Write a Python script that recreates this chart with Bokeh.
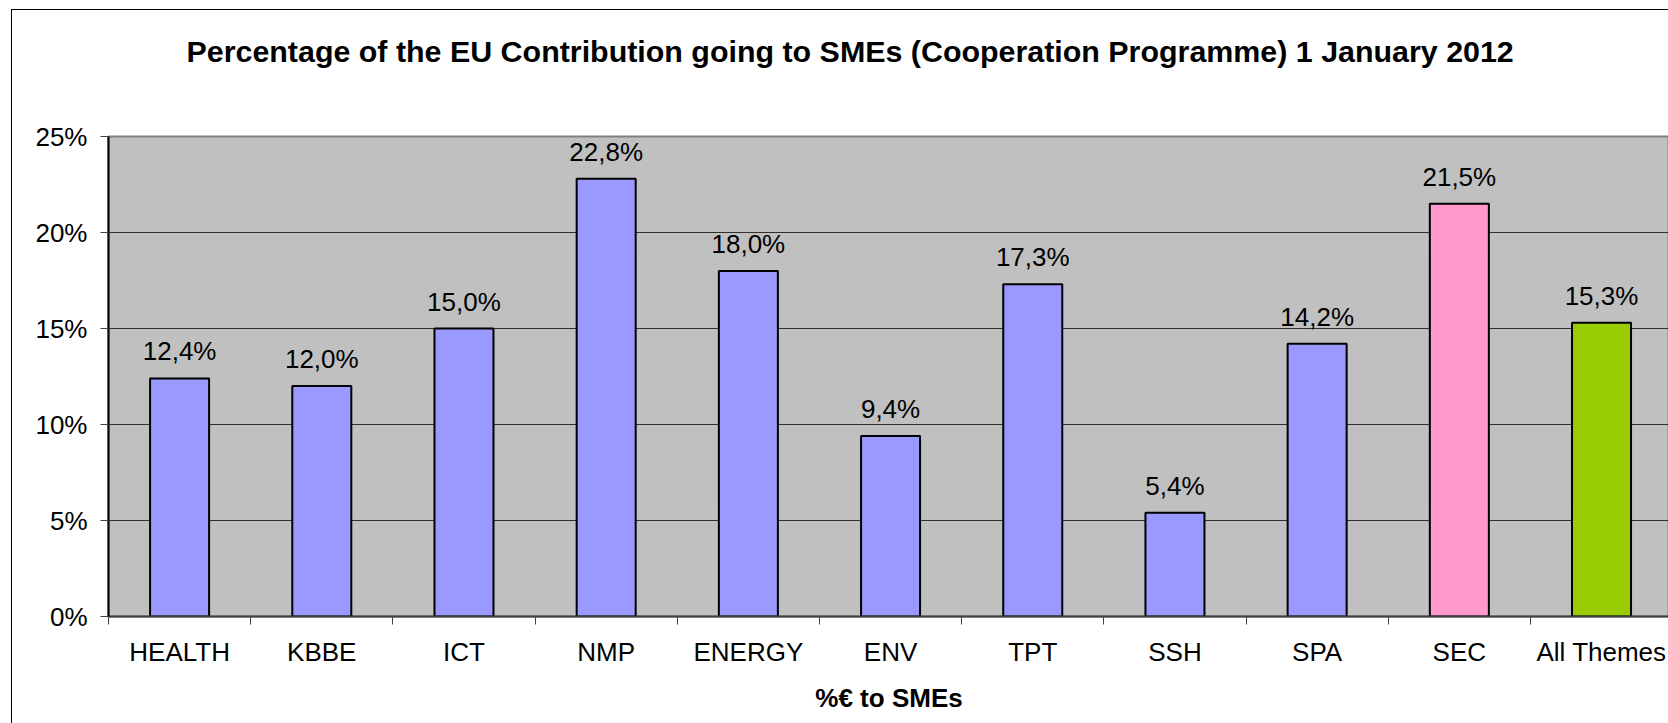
from bokeh.plotting import figure
from bokeh.models import ColumnDataSource, FixedTicker, PrintfTickFormatter, Range1d, LabelSet, Title
from bokeh.core.properties import value
from bokeh.embed import file_html
from bokeh.resources import INLINE

title_text = "Percentage of the EU Contribution going to SMEs (Cooperation Programme) 1 January 2012"
categories = ["HEALTH", "KBBE", "ICT", "NMP", "ENERGY", "ENV", "TPT", "SSH", "SPA", "SEC", "All Themes"]
values = [12.4, 12.0, 15.0, 22.8, 18.0, 9.4, 17.3, 5.4, 14.2, 21.5, 15.3]
colors = ["#9999FF"] * 9 + ["#FF99CC", "#99CC00"]
y_ticks = [0, 5, 10, 15, 20, 25]

xs = list(range(len(categories)))
labels = [f"{v:.1f}".replace(".", ",") + "%" for v in values]
src = ColumnDataSource(dict(x=xs, top=values, color=colors, label=labels))

FONT = "Liberation Sans"

p = figure(width=1657, height=714, output_backend="svg", toolbar_location=None,
           x_range=Range1d(-0.5, 10.478), y_range=Range1d(0, 25),
           min_border_left=96, min_border_right=0, min_border_top=126, min_border_bottom=108,
           title=title_text)
p.margin = (9, 0, 0, 11)
p.styles = {"border-left": "1px solid #000000", "border-top": "1px solid #000000"}

# empty spacer panel between the title and the plot frame
p.add_layout(Title(text=" ", text_font_size="1px", standoff=61), "above")

p.title.align = "left"
p.title.offset = 78
p.title.vertical_align = "bottom"
p.title.standoff = 10
p.title.text_font = FONT
p.title.text_font_size = "30.4px"
p.title.text_font_style = "bold"
p.title.text_color = "#000000"

p.background_fill_color = "#C0C0C0"
p.border_fill_color = "#FFFFFF"
p.outline_line_color = "#808080"
p.outline_line_width = 2

p.vbar(x="x", top="top", width=0.415, bottom=0, source=src,
       fill_color="color", line_color="#000000", line_width=2)

p.add_layout(LabelSet(x="x", y="top", text="label", source=src, text_align="center",
                      text_baseline="bottom", y_offset=12, text_font=value(FONT),
                      text_font_size=value("26px"), text_color="#000000"))

# x axis
p.xaxis.ticker = FixedTicker(ticks=xs, minor_ticks=[i - 0.5 for i in range(len(categories) + 1)])
p.xaxis.major_label_overrides = {i: c for i, c in enumerate(categories)}
p.xaxis.major_tick_out = 0
p.xaxis.major_tick_in = 0
p.xaxis.minor_tick_out = 8
p.xaxis.minor_tick_in = 0
p.xaxis.minor_tick_line_color = "#404040"
p.xaxis.minor_tick_line_width = 1
p.xaxis.axis_line_color = "#404040"
p.xaxis.axis_line_width = 2
p.xaxis.major_label_text_font = FONT
p.xaxis.major_label_text_font_size = "26px"
p.xaxis.major_label_text_color = "#000000"
p.xaxis.major_label_standoff = 12
p.xaxis.axis_label = "%€ to SMEs"
p.xaxis.axis_label_text_font = FONT
p.xaxis.axis_label_text_font_size = "26px"
p.xaxis.axis_label_text_font_style = "bold"
p.xaxis.axis_label_text_color = "#000000"
p.xaxis.axis_label_standoff = 13

# y axis
p.yaxis.ticker = FixedTicker(ticks=y_ticks, minor_ticks=[])
p.yaxis.formatter = PrintfTickFormatter(format="%d%%")
p.yaxis.major_tick_out = 8
p.yaxis.major_tick_in = 0
p.yaxis.major_tick_line_color = "#404040"
p.yaxis.axis_line_color = "#000000"
p.yaxis.axis_line_width = 2
p.yaxis.major_label_text_font = FONT
p.yaxis.major_label_text_font_size = "26px"
p.yaxis.major_label_text_color = "#000000"
p.yaxis.major_label_standoff = 13

p.xgrid.grid_line_color = None
p.ygrid.ticker = FixedTicker(ticks=y_ticks)
p.ygrid.grid_line_color = "#303030"
p.ygrid.grid_line_width = 1

open("out.html", "w").write(file_html(p, INLINE))
